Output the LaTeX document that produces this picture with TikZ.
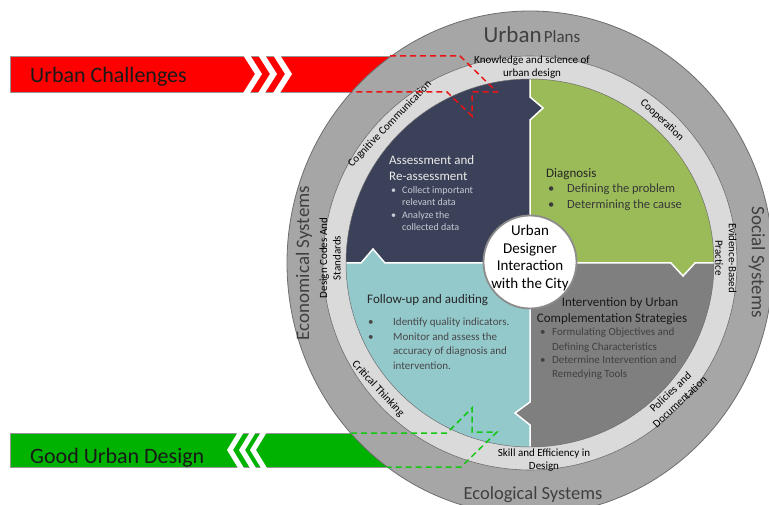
\documentclass[tikz,border=0pt]{standalone}
\usepackage{fontspec}
\setmainfont{Carlito}
\newcommand\fsz[2]{\fontsize{#1}{#2}\selectfont}
\definecolor{barred}{RGB}{255,0,0}
\definecolor{bargreen}{RGB}{0,178,0}
\definecolor{bargray}{RGB}{150,150,150}
\definecolor{ringdark}{RGB}{166,166,166}
\definecolor{ringlight}{RGB}{218,218,218}
\definecolor{ringline}{RGB}{110,110,110}
\definecolor{qnavy}{RGB}{59,65,88}
\definecolor{qgreen}{RGB}{155,187,89}
\definecolor{qgray}{RGB}{127,127,127}
\definecolor{qteal}{RGB}{148,201,204}
\definecolor{darktxt}{RGB}{64,64,64}
\definecolor{navyhead}{RGB}{235,235,235}
\definecolor{navybul}{RGB}{200,203,212}
\definecolor{dashred}{RGB}{235,20,20}
\definecolor{dashgreen}{RGB}{20,200,20}
\definecolor{hubline}{RGB}{140,140,140}
\begin{document}
\begin{tikzpicture}[x=1pt,y=-1pt,
  bartxt/.style={font=\fsz{22}{26}, text=black!90, inner sep=0pt},
  outertxt/.style={font=\fsz{19}{22}, text=darktxt, inner sep=0pt},
  ringtxt/.style={font=\fsz{11}{13.5}, align=center, text=black, inner sep=0pt},
  headtxt/.style={font=\fsz{13}{15}, inner sep=0pt, anchor=base west},
  bultxt/.style={inner sep=0pt, anchor=base west},
  reddash/.style={draw=dashred, line width=1.5pt, dash pattern=on 6pt off 4pt},
  greendash/.style={draw=dashgreen, line width=1.5pt, dash pattern=on 6pt off 4pt}]
\useasboundingbox (0,0) rectangle (769,505);
\clip (0,0) rectangle (769,505);
\fill[white] (0,0) rectangle (769,505);

% ---- bars ----
\fill[barred, draw=bargray, line width=0.6pt] (10,56) rectangle (440,92);
\foreach \a in {243,258,273}
  \fill[white] (\a,55) -- (\a+7,55) -- (\a+19,74) -- (\a+7,93) -- (\a,93) -- (\a+12,74) -- cycle;
\fill[bargreen, draw=bargray, line width=0.6pt] (10,433) rectangle (440,467);
\foreach \a in {238,250,261}
  \fill[white] (\a,432) -- (\a+6,432) -- (\a-5,450) -- (\a+6,468) -- (\a,468) -- (\a-11,450) -- cycle;
\node[bartxt, anchor=base west] (uc) at (30,83) {Urban Challenges};
\node[bartxt, anchor=base west] (gud) at (30,463) {Good Urban Design};

% ---- rings ----
\fill[ringdark, draw=ringline, line width=0.8pt] (530,263) ellipse [x radius=243, y radius=252];
\fill[ringlight, draw=ringline, line width=0.6pt] (530,263) circle [radius=207];

% ---- quadrants ----
\begin{scope}
  \clip (530,263) circle [radius=184];
  \fill[qnavy] (340,70) rectangle (530,263);
  \fill[qgreen] (530,70) rectangle (720,263);
  \fill[qgray] (530,263) rectangle (720,455);
  \fill[qteal] (340,263) rectangle (530,455);
  \fill[qnavy] (530,97) -- (543,108) -- (530,120) -- cycle;
  \fill[qgreen] (671,263) -- (683,276) -- (695,263) -- cycle;
  \fill[qgray] (530,402) -- (515,413) -- (530,425) -- cycle;
  \fill[qteal] (361,263) -- (373,249) -- (385,263) -- cycle;
  \draw[white, line width=1.5pt] (530,75) -- (530,97) -- (543,108) -- (530,120) -- (530,402) -- (515,413) -- (530,425) -- (530,450);
  \draw[white, line width=1.5pt] (342,263) -- (361,263) -- (373,249) -- (385,263) -- (671,263) -- (683,276) -- (695,263) -- (718,263);
\end{scope}
\draw[ringline, line width=0.5pt] (530,263) circle [radius=184];

% ---- outer ring texts ----
\node[inner sep=0pt, anchor=base, text=darktxt] (up) at (532,43) {{\fsz{23}{26}Urban} {\fsz{17}{20}Plans}};
\node[outertxt, rotate=90] (econ) at (304,263) {Economical Systems};
\node[outertxt, rotate=-90] (soc) at (757,262) {Social Systems};
\node[outertxt, anchor=base, font=\fsz{18.5}{22}] (eco) at (533,499) {Ecological Systems};

% ---- light ring texts ----
\node[ringtxt] (know) at (532,67) {Knowledge and science of\\urban design};
\node[ringtxt, rotate=-43] (coop) at (662,120) {Cooperation};
\node[ringtxt, rotate=-90] (evid) at (726,258) {Evidence-Based\\Practice};
\node[ringtxt, rotate=43] (pol) at (675,397) {Policies and\\Documentation};
\node[ringtxt] (skill) at (544,460) {Skill and Efficiency in\\Design};
\node[ringtxt, rotate=-47] (crit) at (378,389) {Critical Thinking};
\node[ringtxt, rotate=90] (codes) at (330,258) {Design Codes And\\Standards};
\node[ringtxt, rotate=46] (cogn) at (390,124) {Cognitive Communication};

% ---- navy quadrant ----
\node[headtxt, text=navyhead] (a1) at (389,165) {Assessment and};
\node[headtxt, text=navyhead] (a2) at (389,181) {Re-assessment};
\begin{scope}[every node/.style={bultxt, font=\fsz{10}{12}, text=navybul}]
  \node (ab1) at (391,194) {•};
  \node (at1) at (402,194) {Collect important};
  \node (at2) at (402,206) {relevant data};
  \node (ab2) at (391,219) {•};
  \node (at3) at (402,219) {Analyze the};
  \node (at4) at (402,231) {collected data};
\end{scope}

% ---- green quadrant ----
\node[headtxt, text=black!85] (d1) at (546,178) {Diagnosis};
\begin{scope}[every node/.style={bultxt, font=\fsz{12.5}{14}, text=black!78}]
  \node (db1) at (548,193) {•};
  \node (dt1) at (567,193) {Defining the problem};
  \node (db2) at (548,209) {•};
  \node (dt2) at (567,209) {Determining the cause};
\end{scope}

% ---- teal quadrant ----
\node[headtxt, text=black!85] (f1) at (367,304) {Follow-up and auditing};
\begin{scope}[every node/.style={bultxt, font=\fsz{11}{13}, text=black!72}]
  \node (fb1) at (368,326) {•};
  \node (ft1) at (393,326) {Identify quality indicators.};
  \node (fb2) at (368,341) {•};
  \node (ft2) at (393,341) {Monitor and assess the};
  \node (ft3) at (393,355) {accuracy of diagnosis and};
  \node (ft4) at (393,370) {intervention.};
\end{scope}

% ---- gray quadrant ----
\node[headtxt, anchor=base, text=black!90] (i1) at (620,307) {Intervention by Urban};
\node[headtxt, anchor=base, text=black!90] (i2) at (612,323) {Complementation Strategies};
\begin{scope}[every node/.style={bultxt, font=\fsz{11}{13}, text=black!75}]
  \node (ib1) at (540,336) {•};
  \node (it1) at (552,336) {Formulating Objectives and};
  \node (it2) at (552,350) {Defining Characteristics};
  \node (ib2) at (540,363) {•};
  \node (it3) at (552,363) {Determine Intervention and};
  \node (it4) at (552,377) {Remedying Tools};
\end{scope}

% ---- hub ----
\node[circle, draw=hubline, fill=white, line width=1.8pt, minimum size=93pt, inner sep=0pt] (hub) at (530,262) {};
\node[align=center, font=\fsz{15}{17.5}, text=black, inner sep=0pt] (hubtxt) at (530,258) {Urban\\Designer\\Interaction\\with the City};

% ---- dashed outlines ----
\coordinate (r1) at (390,56);
\coordinate (r2) at (460,56);
\coordinate (r3) at (497,92);
\coordinate (r4) at (472,92);
\coordinate (r5) at (472,116);
\coordinate (r6) at (447,92);
\coordinate (r7) at (351,92);
\draw[reddash] (r1) -- (r2) -- (r3) -- (r4) -- (r5) -- (r6) -- (r7);
\coordinate (g1) at (351,433);
\coordinate (g2) at (447,433);
\coordinate (g3) at (472,408);
\coordinate (g4) at (472,432);
\coordinate (g5) at (497,432);
\coordinate (g6) at (461,467);
\coordinate (g7) at (387,467);
\draw[greendash] (g1) -- (g2) -- (g3) -- (g4) -- (g5) -- (g6) -- (g7);
\end{tikzpicture}
\end{document}
